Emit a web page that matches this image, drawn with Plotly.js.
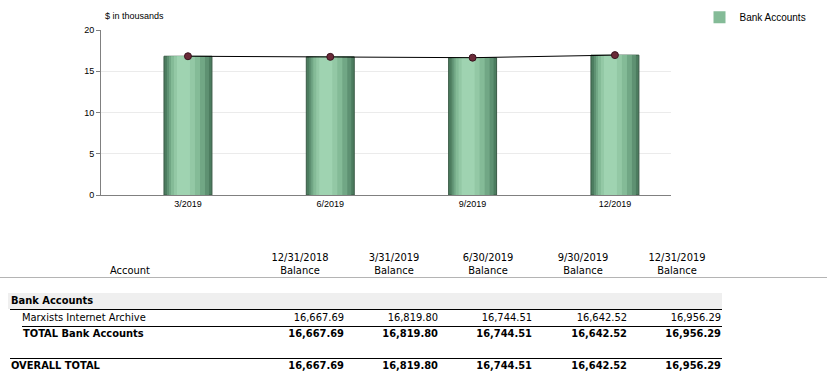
<!DOCTYPE html>
<html>
<head>
<meta charset="utf-8">
<script src="https://cdn.plot.ly/plotly-3.0.1.min.js"></script>
<style>
  html, body { margin: 0; padding: 0; background: #fff; }
  body { width: 827px; height: 379px; overflow: hidden; position: relative; }
  #chart { position: absolute; left: 0; top: 0; width: 827px; height: 215px; }
  #table { position: absolute; left: 0; top: 0; width: 827px; height: 379px;
           font-family: "DejaVu Sans Condensed", "Liberation Sans", sans-serif; font-size: 11px; color: #000; }
  .t { position: absolute; white-space: nowrap; line-height: 13px; }
  .b { font-weight: bold; }
  .r { position: absolute; height: 1px; }
</style>
</head>
<body>
<div id="chart"></div>
<div id="table"></div>
<script>
// ---- data ----
var categories = ["3/2019", "6/2019", "9/2019", "12/2019"];
var barValues = [16.8198, 16.74451, 16.64252, 16.95629];   // $ in thousands
var seriesName = "Bank Accounts";
var yTicks = [0, 5, 10, 15, 20];

var columnDates = ["12/31/2018", "3/31/2019", "6/30/2019", "9/30/2019", "12/31/2019"];
var groupName = "Bank Accounts";
var accountName = "Marxists Internet Archive";
var accountBalances = ["16,667.69", "16,819.80", "16,744.51", "16,642.52", "16,956.29"];
var totalLabel = "TOTAL Bank Accounts";
var totalBalances = ["16,667.69", "16,819.80", "16,744.51", "16,642.52", "16,956.29"];
var overallLabel = "OVERALL TOTAL";
var overallBalances = ["16,667.69", "16,819.80", "16,744.51", "16,642.52", "16,956.29"];

// ---- chart ----
// gradient bars approximated by overlaid layers (offset, width, colour)
var layers = [
  {off: -0.1685, w: 0.337, c: "#4c7c5f", line: "#3a5a46"},
  {off: -0.1475, w: 0.295, c: "#5e9172", line: null},
  {off: -0.1335, w: 0.253, c: "#71a785", line: null},
  {off: -0.1194, w: 0.204, c: "#84bb97", line: null},
  {off: -0.0984, w: 0.1475, c: "#93c8a5", line: null},
  {off: -0.0773, w: 0.0913, c: "#9fd3b1", line: null}
];
var traces = layers.map(function (L, i) {
  return {
    type: "bar", x: categories, y: barValues, name: seriesName,
    offset: L.off, width: L.w,
    marker: {color: L.c, line: {color: L.line || L.c, width: L.line ? 1 : 0}},
    showlegend: i === 3, hoverinfo: "skip"
  };
});
traces.push({
  type: "scatter", mode: "lines+markers", x: categories, y: barValues,
  line: {color: "#000", width: 1},
  marker: {color: "#6a2a38", size: 7, line: {color: "#3a1520", width: 1}},
  showlegend: false, hoverinfo: "skip"
});

var layout = {
  width: 827, height: 215,
  margin: {l: 101, r: 156, t: 30, b: 20, autoexpand: false},
  paper_bgcolor: "#fff", plot_bgcolor: "#fff",
  barmode: "overlay",
  font: {family: "Liberation Sans, Arial, sans-serif", size: 9, color: "#000"},
  xaxis: {
    type: "category", range: [-0.611, 3.394], showgrid: false,
    showline: true, linecolor: "#808080", linewidth: 1,
    ticks: "", tickfont: {size: 9}, fixedrange: true, automargin: false
  },
  yaxis: {
    range: [0, 20], tickvals: yTicks, showgrid: true, gridcolor: "#ebebeb",
    showline: true, linecolor: "#808080", linewidth: 1, zeroline: false,
    ticks: "outside", ticklen: 4, tickcolor: "#808080", tickfont: {size: 9},
    fixedrange: true, automargin: false
  },
  legend: {
    x: 1.05, y: 1.165, xanchor: "left", yanchor: "top", itemwidth: 30,
    font: {size: 10, color: "#000"}, bgcolor: "rgba(0,0,0,0)"
  },
  annotations: [{
    text: "$ in thousands", xref: "paper", yref: "paper", x: 0.003, y: 1.085,
    xanchor: "left", yanchor: "middle", showarrow: false, font: {size: 9, color: "#000"}
  }]
};
Plotly.newPlot("chart", traces, layout, {displayModeBar: false, staticPlot: true});

// ---- table ----
var tbl = document.getElementById("table");
var colRight = [344, 438, 532, 627, 721];
function txt(s, x, yc, opts) {
  var d = document.createElement("div");
  d.className = "t" + (opts && opts.bold ? " b" : "");
  d.textContent = s;
  d.style.top = (yc - 7) + "px";
  if (opts && opts.align === "right") { d.style.right = (827 - x) + "px"; }
  else if (opts && opts.align === "center") { d.style.left = (x - 60) + "px"; d.style.width = "120px"; d.style.textAlign = "center"; }
  else { d.style.left = x + "px"; }
  tbl.appendChild(d);
}
function rule(x, y, w, color, h) {
  var d = document.createElement("div");
  d.className = "r";
  d.style.left = x + "px"; d.style.top = y + "px"; d.style.width = w + "px";
  d.style.background = color; d.style.height = (h || 1) + "px";
  tbl.appendChild(d);
}
// header
txt("Account", 130, 271, {align: "center"});
columnDates.forEach(function (dt, i) {
  txt(dt, colRight[i] - 44, 258, {align: "center"});
  txt("Balance", colRight[i] - 44, 271, {align: "center"});
});
rule(0, 277, 827, "#b4b4b4");
// group band
rule(8, 293, 714, "#efefef", 16);
txt(groupName, 11, 301, {bold: true});
rule(10, 309, 712, "#000");
// account row
txt(accountName, 22, 318);
accountBalances.forEach(function (v, i) { txt(v, colRight[i], 318, {align: "right"}); });
rule(22, 326, 700, "#000");
// total row
txt(totalLabel, 23, 334, {bold: true});
totalBalances.forEach(function (v, i) { txt(v, colRight[i], 334, {align: "right", bold: true}); });
rule(10, 358, 712, "#000");
// overall row
txt(overallLabel, 11, 366, {bold: true});
overallBalances.forEach(function (v, i) { txt(v, colRight[i], 366, {align: "right", bold: true}); });
</script>
</body>
</html>
